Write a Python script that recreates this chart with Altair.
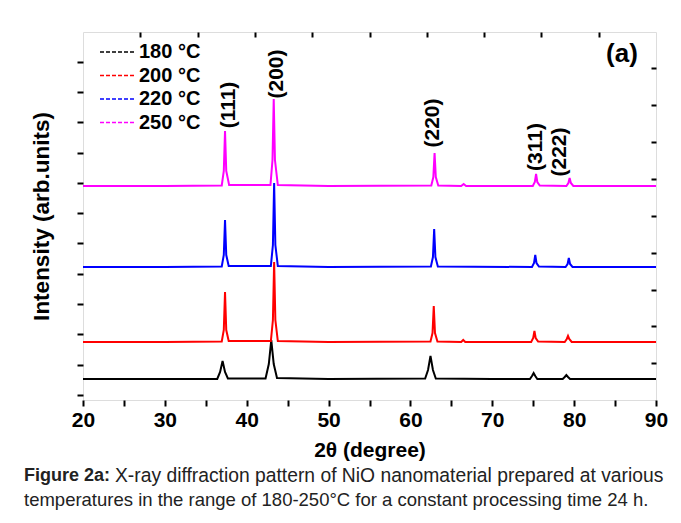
import altair as alt
import pandas as pd

FONT = "Liberation Sans"

temps = ["180 °C", "200 °C", "220 °C", "250 °C"]
colors = ["#000000", "#ff0000", "#0000ff", "#ff00ff"]

# 2theta (deg) / intensity (arb. units) points
x_180 = [20, 30, 36.4, 36.75, 37.05, 37.35, 37.7, 42.3, 42.7, 43.0, 43.3, 43.7, 50,
         61.8, 62.15, 62.45, 62.75, 63.1, 70, 74.6, 74.85, 75.05, 75.25, 75.5,
         78.6, 78.85, 79.05, 79.25, 79.5, 85, 90]
y_180 = [21, 21, 21, 28, 39, 28, 21.5, 21.5, 36, 60, 36, 22, 21,
         21.5, 30, 44, 30, 21.5, 21, 21, 24, 27, 24, 21,
         21, 23, 25, 23, 21, 21, 21]

x_200 = [20, 30, 36.95, 37.2, 37.35, 37.5, 37.8, 42.95, 43.2, 43.35, 43.5, 43.8, 50,
         62.45, 62.7, 62.85, 63.0, 63.3, 66.2, 66.45, 66.7, 74.75, 75.0, 75.15, 75.3, 75.6,
         78.85, 79.1, 79.25, 79.4, 79.7, 85, 90]
y_200 = [58, 58, 58.5, 70, 108, 70, 59, 59, 80, 138, 80, 59, 58,
         58.5, 67, 94, 67, 58.5, 58, 60, 58, 58, 62, 69, 62, 58.5,
         58, 61, 64, 61, 58, 58, 58]

x_220 = [20, 30, 36.95, 37.2, 37.35, 37.5, 37.8, 42.95, 43.2, 43.35, 43.5, 43.8, 50,
         62.5, 62.75, 62.9, 63.05, 63.35, 74.85, 75.1, 75.25, 75.4, 75.7,
         78.95, 79.2, 79.35, 79.5, 79.8, 85, 90]
y_220 = [133, 133, 133.5, 145, 180, 145, 134, 134, 155, 217, 155, 134, 133,
         133.5, 143, 171, 143, 133.5, 133, 137, 145, 137, 133.5,
         133, 136, 142, 136, 133, 133, 133]

x_250 = [20, 30, 36.95, 37.2, 37.35, 37.5, 37.85, 42.9, 43.15, 43.3, 43.45, 43.8, 50,
         62.55, 62.8, 62.95, 63.1, 63.4, 66.2, 66.5, 66.8, 74.95, 75.2, 75.35, 75.5, 75.8,
         79.05, 79.3, 79.45, 79.6, 79.9, 85, 90]
y_250 = [214, 214, 214.5, 229, 269, 229, 215, 215, 240, 301, 240, 215, 214,
         214.5, 223, 247, 223, 214.5, 214, 216, 214, 214, 218, 226, 218, 214.5,
         214, 217, 222, 217, 214, 214, 214]

hkl_labels = ["(111)", "(200)", "(220)", "(311)", "(222)"]
hkl_x = [37.85, 43.7, 62.75, 75.35, 78.3]
hkl_y = [295, 326, 277, 253, 248]

x_ticks = [20, 25, 30, 35, 40, 45, 50, 55, 60, 65, 70, 75, 80, 85, 90]
left_ticks = [5, 35, 66, 96, 126, 157, 187, 217, 247, 278, 308, 338]
right_ticks = [37, 74, 110, 147, 184, 221, 258, 295, 332]
top_ticks = [1, 2, 3, 4, 5, 6, 7, 8, 9]

caption_bold = "Figure 2a:"
caption_1 = "X-ray diffraction pattern of NiO nanomaterial prepared at various"
caption_2 = "temperatures in the range of 180-250°C for a constant processing time 24 h."

W, H = 573, 368

rows = []
for t, xs, ys in zip(temps, [x_180, x_200, x_220, x_250], [y_180, y_200, y_220, y_250]):
    for i, (a, b) in enumerate(zip(xs, ys)):
        rows.append({"temp": t, "theta": a, "inten": b, "order": i})
df = pd.DataFrame(rows)

xscale = alt.Scale(domain=[20, 90], nice=False, zero=False)
yscale = alt.Scale(domain=[0, H], nice=False, zero=False)

x_axis = alt.Axis(values=x_ticks, labelExpr="datum.value % 10 === 0 ? datum.label : ''",
                  title="2θ (degree)", titleFontSize=21, titleFont=FONT, titleFontWeight="bold",
                  labelFont=FONT, labelFontSize=21, labelFontWeight="bold", labelColor="black",
                  titleColor="black", tickSize=6, tickWidth=2, tickColor="black", domain=False,
                  grid=False, labelPadding=3, titlePadding=9, labelFlush=False)
y_axis = alt.Axis(values=left_ticks, labels=False, title="Intensity (arb.units)",
                  titleFontSize=22.5, titleFont=FONT, titleFontWeight="bold", titleColor="black",
                  tickSize=6, tickWidth=2, tickColor="black", domain=False, grid=False,
                  titlePadding=23)

lines = alt.Chart(df).mark_line(strokeWidth=2).encode(
    x=alt.X("theta:Q", scale=xscale, axis=x_axis),
    y=alt.Y("inten:Q", scale=yscale, axis=y_axis),
    color=alt.Color("temp:N", scale=alt.Scale(domain=temps, range=colors),
                    legend=alt.Legend(title=None, orient="none", legendX=25, legendY=10,
                                      symbolType="M-3,0H3", symbolSize=144,
                                      symbolStrokeWidth=1.5, symbolDash=[4, 2],
                                      labelFont=FONT, labelFontSize=20, labelFontWeight="bold",
                                      labelColor="black", labelOffset=11, rowPadding=3.5,
                                      padding=0)),
    order="order:Q",
)

lab_df = pd.DataFrame({"hkl": hkl_labels, "theta": hkl_x, "inten": hkl_y})
labels = alt.Chart(lab_df).mark_text(angle=270, fontSize=21, fontWeight="bold", font=FONT,
                                     align="center", baseline="middle", color="black").encode(
    x=alt.X("theta:Q", scale=xscale, axis=x_axis),
    y=alt.Y("inten:Q", scale=yscale, axis=y_axis),
    text="hkl:N",
)

main = alt.layer(lines, labels)

top = alt.Chart(pd.DataFrame({"t": [0] + top_ticks + [10]})).mark_point(opacity=0).encode(
    x=alt.X("t:Q", scale=alt.Scale(domain=[0, 10], nice=False),
            axis=alt.Axis(orient="bottom", offset=-H, values=top_ticks, labels=False,
                          domain=False, tickSize=5, tickWidth=2, tickColor="black",
                          title=None, grid=False)),
    y=alt.value(0),
)

right = alt.Chart(pd.DataFrame({"r": right_ticks})).mark_point(opacity=0).encode(
    y=alt.Y("r:Q", scale=alt.Scale(domain=[0, H], nice=False, zero=False),
            axis=alt.Axis(orient="left", offset=-W, values=right_ticks, labels=False,
                          domain=False, tickSize=5, tickWidth=2, tickColor="black",
                          title=None, grid=False)),
    x=alt.value(0),
)

panel_tag = alt.Chart(pd.DataFrame({"t": ["(a)"]})).mark_text(
    font=FONT, fontSize=26, fontWeight="bold", align="center", baseline="middle", color="black"
).encode(x=alt.value(539), y=alt.value(22), text="t:N")

cap_b = alt.Chart(pd.DataFrame({"t": [caption_bold]})).mark_text(
    font=FONT, fontSize=18, fontWeight="bold", align="left", baseline="middle", color="#222222"
).encode(x=alt.value(-59), y=alt.value(444), text="t:N")

cap_1 = alt.Chart(pd.DataFrame({"t": [caption_1]})).mark_text(
    font=FONT, fontSize=19.3, align="left", baseline="middle", color="#222222"
).encode(x=alt.value(32), y=alt.value(444), text="t:N")

cap_2 = alt.Chart(pd.DataFrame({"t": [caption_2]})).mark_text(
    font=FONT, fontSize=18.5, align="left", baseline="middle", color="#222222"
).encode(x=alt.value(-59), y=alt.value(468), text="t:N")

chart = alt.layer(main, top, right, panel_tag, cap_b, cap_1, cap_2).resolve_scale(
    x="independent", y="independent"
).properties(
    width=W, height=H,
    autosize=alt.AutoSizeParams(type="none"),
    padding={"left": 75, "top": 24, "right": 17, "bottom": 115},
).configure_view(stroke="black", strokeWidth=2).configure(background="white")

chart.save("out.html", embed_options={"renderer": "svg", "actions": False})
